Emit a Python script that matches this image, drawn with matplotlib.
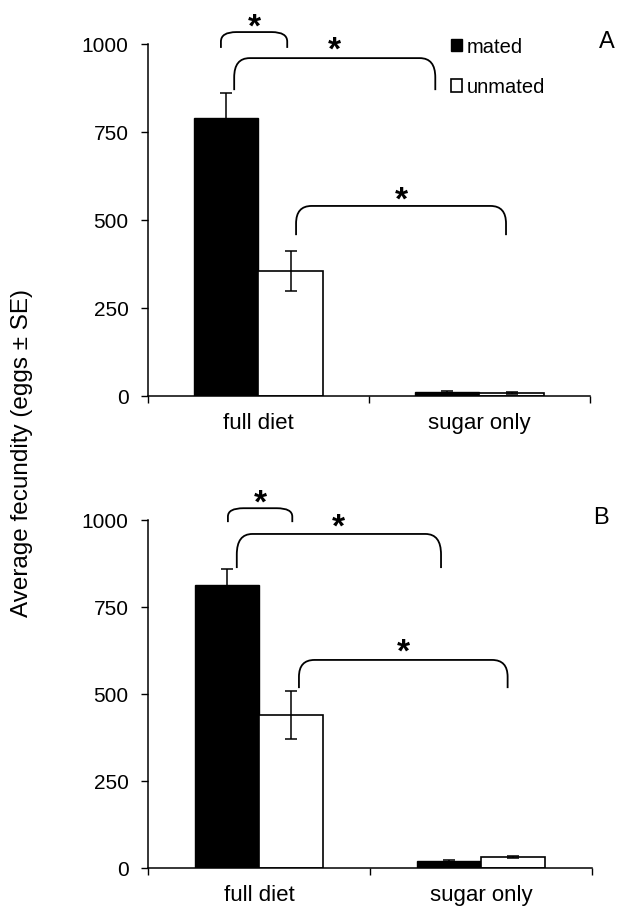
import numpy as np
import matplotlib
matplotlib.use("Agg")
import matplotlib.pyplot as plt
from matplotlib.path import Path
from matplotlib.patches import PathPatch

plt.rcParams['font.family'] = ['Liberation Sans', 'DejaVu Sans']

categories = ["full diet", "sugar only"]
series_names = ["mated", "unmated"]

# panel A
mated_a = [790, 12]
mated_a_se = [72, 3]
unmated_a = [355, 8]
unmated_a_se = [58, 2]

# panel B
mated_b = [812, 20]
mated_b_se = [48, 3]
unmated_b = [440, 33]
unmated_b_se = [68, 3]

# significance brackets: (x1, x2, y_top, y_bottom, star_y)
brackets_a = [(-0.17, 0.13, 1034, 989, 1045),
              (-0.11, 0.80, 960, 869, 980),
              (0.17, 1.12, 540, 457, 555)]
brackets_b = [(-0.14, 0.15, 1034, 994, 1047),
              (-0.10, 0.82, 960, 862, 977),
              (0.18, 1.12, 598, 517, 617)]

yticks = [0, 250, 500, 750, 1000]
bar_w = 0.29


def draw_bracket(ax, x1, x2, ytop, ybot, star_y):
    rx = 0.07
    ry = (ytop - ybot) * 0.6
    verts = [(x1, ybot), (x1, ytop - ry), (x1, ytop), (x1 + rx, ytop),
             (x2 - rx, ytop), (x2, ytop), (x2, ytop - ry), (x2, ybot)]
    codes = [Path.MOVETO, Path.LINETO, Path.CURVE3, Path.CURVE3,
             Path.LINETO, Path.CURVE3, Path.CURVE3, Path.LINETO]
    patch = PathPatch(Path(verts, codes), fill=False, lw=1.3,
                      edgecolor="black", clip_on=False)
    ax.add_patch(patch)
    ax.text((x1 + x2) / 2, star_y, "*", ha="center", va="center",
            fontsize=24, fontweight="bold", clip_on=False)


def draw_panel(ax, mated, mated_se, unmated, unmated_se, brackets, letter, letter_x, legend):
    x = np.arange(len(categories))
    ekw = dict(ecolor="black", elinewidth=1.1, capsize=4, capthick=1.1)
    ax.bar(x - bar_w / 2, mated, bar_w, color="black", edgecolor="black",
           lw=1, yerr=mated_se, error_kw=ekw, label=series_names[0])
    ax.bar(x + bar_w / 2, unmated, bar_w, color="white", edgecolor="black",
           lw=1.2, yerr=unmated_se, error_kw=ekw, label=series_names[1])
    ax.set_xlim(-0.5, 1.5)
    ax.set_ylim(0, 1000)
    ax.set_yticks(yticks)
    ax.tick_params(axis="y", labelsize=15, length=5, width=1, direction="out", pad=9)
    ax.set_xticks([-0.5, 0.5, 1.5])
    ax.set_xticklabels([])
    ax.tick_params(axis="x", which="major", length=5, width=1, direction="out")
    ax.set_xticks(x, minor=True)
    ax.set_xticklabels(categories, minor=True)
    ax.tick_params(axis="x", which="minor", length=0, labelsize=16, pad=12)
    for s in ["top", "right"]:
        ax.spines[s].set_visible(False)
    for s in ["left", "bottom"]:
        ax.spines[s].set_linewidth(1.1)
    for b in brackets:
        draw_bracket(ax, *b)
    ax.text(letter_x, 1005, letter, ha="center", va="center", fontsize=17,
            clip_on=False)
    if legend:
        ax.legend(loc="upper left", bbox_to_anchor=(0.645, 1.07), frameon=False,
                  fontsize=14.5, handlelength=0.55, handleheight=0.55,
                  handletextpad=0.2, labelspacing=1.05)


fig = plt.figure(figsize=(6.2, 9.06), dpi=100)
ax_a = fig.add_axes([0.2387, 0.5629, 0.7129, 0.3885])
ax_b = fig.add_axes([0.2387, 0.0419, 0.7161, 0.3841])

draw_panel(ax_a, mated_a, mated_a_se, unmated_a, unmated_a_se, brackets_a, "A", 1.575, True)
draw_panel(ax_b, mated_b, mated_b_se, unmated_b, unmated_b_se, brackets_b, "B", 1.54, False)

fig.text(0.036, 0.5, "Average fecundity (eggs \u00b1 SE)", rotation=90,
         ha="center", va="center", fontsize=17.5)

fig.savefig("out.png", dpi=100)
